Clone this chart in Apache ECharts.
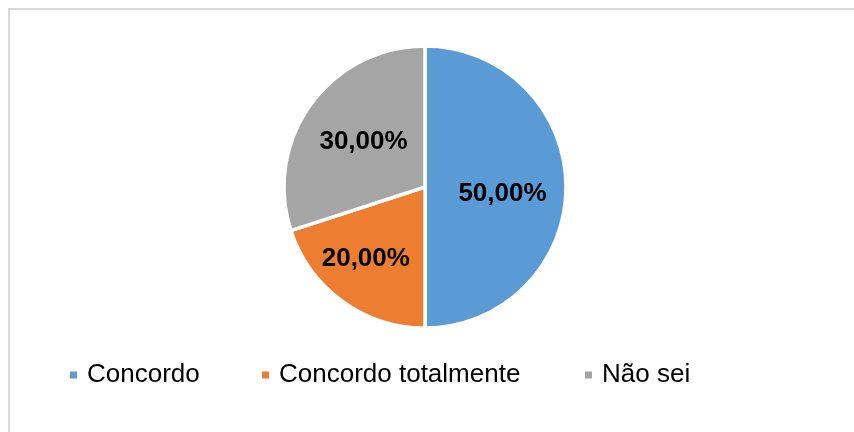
<!DOCTYPE html>
<html>
<head>
<meta charset="utf-8">
<script src="https://cdn.jsdelivr.net/npm/echarts@6/dist/echarts.min.js"></script>
<style>
    html, body { margin: 0; padding: 0; background: #fff; }
    #chart { width: 854px; height: 432px; }
</style>
</head>
<body>
<div id="chart"></div>
<script>
// dados
var categorias = ['Concordo', 'Concordo totalmente', 'Não sei'];
var valores = [50, 20, 30];
var cores = ['#5B9BD5', '#ED7D31', '#A5A5A5'];

// ajuste fino das etiquetas (o Excel não as põe exatamente a meio raio)
var deslocEtiquetas = [[4, 7], [-16, 12], [-2, -2]];
var legendaLeft = [70, 262, 585];

var fonte = "'Liberation Sans', Arial, sans-serif";

var pieData = categorias.map(function (nome, i) {
    return {
        name: nome,
        value: valores[i],
        itemStyle: { color: cores[i] },
        label: { offset: deslocEtiquetas[i] }
    };
});

var legendas = categorias.map(function (nome, i) {
    return {
        data: [nome],
        left: legendaLeft[i],
        top: 362,
        padding: 0,
        icon: 'rect',
        itemWidth: 7,
        itemHeight: 7,
        itemStyle: { borderWidth: 0 },
        selectedMode: false,
        textStyle: {
            fontFamily: fonte,
            fontSize: 26,
            color: '#000',
            padding: [0, 0, 0, 5]
        }
    };
});

var myChart = echarts.init(document.getElementById('chart'), null, { renderer: 'canvas' });
var option = {
    animation: false,
    backgroundColor: '#fff',
    graphic: [
        {
            type: 'rect',
            shape: { x: 9, y: 9, width: 900, height: 500 },
            style: { fill: 'none', stroke: '#D9D9D9', lineWidth: 2 },
            silent: true
        }
    ],
    legend: legendas,
    series: [
        {
            type: 'pie',
            center: [425, 187],
            radius: [0, 141],
            startAngle: 90,
            clockwise: true,
            data: pieData,
            itemStyle: { borderColor: '#fff', borderWidth: 3.5 },
            label: {
                show: true,
                position: 'inside',
                fontFamily: fonte,
                fontSize: 26,
                fontWeight: 'bold',
                color: '#000',
                formatter: function (arg) {
                    return arg.percent.toFixed(2).replace('.', ',') + '%';
                }
            },
            labelLine: { show: false },
            emphasis: { disabled: true }
        }
    ]
};
myChart.setOption(option);
</script>
</body>
</html>
